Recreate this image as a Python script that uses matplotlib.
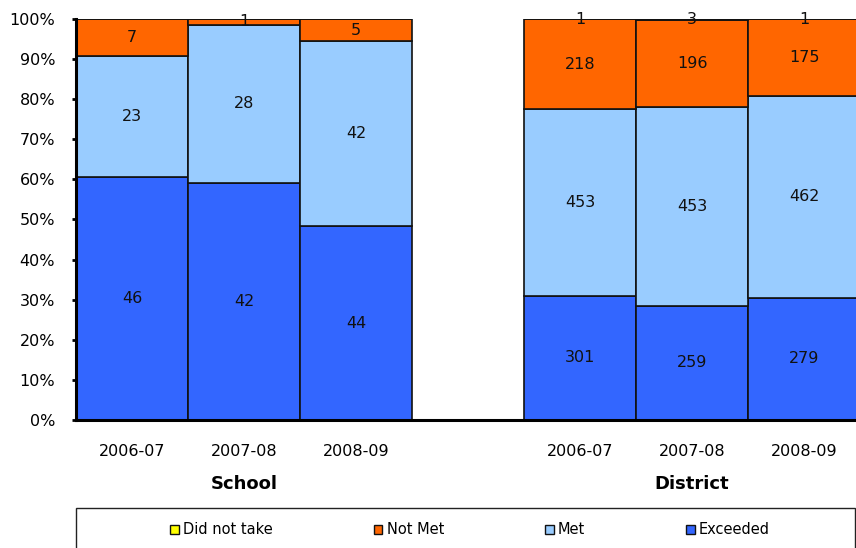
import matplotlib
matplotlib.use("Agg")
import matplotlib.pyplot as plt
from matplotlib.patches import Rectangle, Patch
from matplotlib.ticker import PercentFormatter
import matplotlib.transforms as mtransforms
import numpy as np

plt.rcParams['font.family'] = ['DejaVu Sans']

# Data: counts of students per performance level
years = ['2006-07', '2007-08', '2008-09']
groups = ['School', 'District']
exceeded = [46, 42, 44, 301, 259, 279]
met = [23, 28, 42, 453, 453, 462]
not_met = [7, 1, 5, 218, 196, 175]
did_not_take = [0, 0, 0, 1, 3, 1]

series_names = ['Exceeded', 'Met', 'Not Met', 'Did not take']
series_colors = ['#3366FF', '#99CCFF', '#FF6600', '#FFFF00']

W, H = 856, 548
fig = plt.figure(figsize=(W / 100, H / 100), dpi=100)
ax = fig.add_axes([76 / W, (H - 420) / H, 1 - 76 / W, (420 - 19) / H])

positions = np.array([0, 1, 2, 4, 5, 6], dtype=float)
counts = np.array([exceeded, met, not_met, did_not_take], dtype=float)
totals = counts.sum(axis=0)
shares = counts / totals

bottom = np.zeros(len(positions))
for name, color, share, cnt in zip(series_names, series_colors, shares, counts):
    ax.bar(positions, share, width=1.0, bottom=bottom, color=color,
           edgecolor='#111111', linewidth=1.2, label=name)
    for x, b, s, c in zip(positions, bottom, share, cnt):
        if c > 0:
            ax.text(x, b + s / 2, f"{int(c)}", ha='center', va='center',
                    fontsize=11.5, color='#111111')
    bottom += share

ax.set_ylim(0, 1)
ax.set_xlim(-0.5, 6.464)
ax.yaxis.set_major_locator(plt.MultipleLocator(0.1))
ax.yaxis.set_major_formatter(PercentFormatter(xmax=1, decimals=0))
ax.tick_params(axis='y', direction='out', length=3, width=2, pad=12,
               labelsize=11.5, color='black')
ax.set_xticks(positions)
ax.set_xticklabels(years * 2)
ax.tick_params(axis='x', length=0, pad=17, labelsize=11.5)

for side in ['top', 'right']:
    ax.spines[side].set_visible(False)
ax.spines['left'].set_linewidth(2.2)
ax.spines['bottom'].set_linewidth(2.2)

# Group labels below the year labels
trans = mtransforms.blended_transform_factory(ax.transData, ax.transAxes)
for gx, g in zip([1, 5], groups):
    ax.text(gx, -0.16, g, transform=trans, ha='center', va='center',
            fontsize=13, fontweight='bold')

# Legend box along the bottom
box = Rectangle((76 / W, -10 / H), (855 - 76) / W, (548 - 508 + 10) / H,
                transform=fig.transFigure, facecolor='white',
                edgecolor='#222222', linewidth=1.0, clip_on=False)
fig.patches.append(box)

legend_handles = [Patch(facecolor=c, edgecolor='#111111', linewidth=1.0)
                  for c in series_colors][::-1]
fig.legend(legend_handles, series_names[::-1], ncol=4, frameon=False,
           loc='center', bbox_to_anchor=(470 / W, (548 - 530) / H),
           fontsize=10.5, handlelength=0.6, handleheight=0.6,
           handletextpad=0.3, columnspacing=6.9, borderpad=0)

fig.savefig('out.png', dpi=100)
